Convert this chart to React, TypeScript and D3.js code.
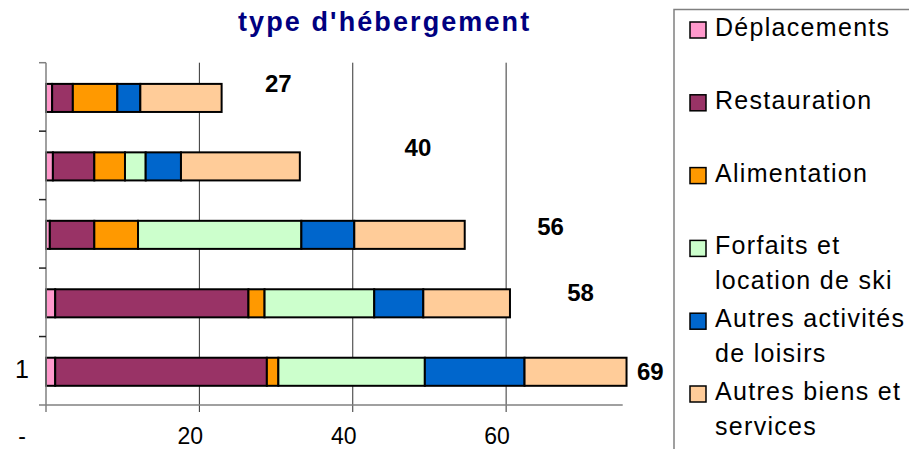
import React from "react";
import * as d3 from "d3";

// Categories, bottom to top (only the first one carries a visible label)
const categories = ["1", "", "", "", ""];
const seriesNames = [
  "Déplacements",
  "Restauration",
  "Alimentation",
  "Forfaits et location de ski",
  "Autres activités de loisirs",
  "Autres biens et services",
];
const seriesColors = ["#FF99CC", "#993366", "#FF9900", "#CCFFCC", "#0066CC", "#FFCC99"];

// Series values per category (bottom to top)
const deplacements = [1.2, 1.2, 0.5, 0.9, 0.8];
const restauration = [27.6, 25.2, 5.8, 5.4, 2.7];
const alimentation = [1.5, 2.1, 5.7, 4.0, 5.8];
const forfaits = [19.1, 14.3, 21.3, 2.7, 0];
const autresLoisirs = [13.0, 6.4, 6.9, 4.6, 3.0];
const autresBiens = [13.3, 11.3, 14.4, 15.5, 10.6];

// Total labels, drawn as a free label series (x in value units, y in category units)
const totalLabels = [69, 58, 56, 40, 27];
const totalLabelX = [78.8, 69.7, 65.8, 48.5, 30.3];
const totalLabelY = [0.37, 1.52, 2.49, 3.64, 4.57];

const xTicks = [0, 20, 40, 60];
const xMax = 75.2;

const W = 909;
const H = 449;
const plotLeft = 46;
const plotRight = 622.7;
const plotTop = 62.7;
const plotBottom = 405;

function wrap(label: string, maxChars: number): string[] {
  const words = label.split(" ");
  const lines: string[] = [];
  let cur = "";
  for (const w of words) {
    const next = cur ? cur + " " + w : w;
    if (next.length > maxChars && cur) {
      lines.push(cur);
      cur = w;
    } else cur = next;
  }
  if (cur) lines.push(cur);
  return lines;
}

export default function App() {
  const values = [deplacements, restauration, alimentation, forfaits, autresLoisirs, autresBiens];
  const rows = categories.map((c, i) => {
    const r: any = { cat: i };
    seriesNames.forEach((s, k) => (r[s] = values[k][i]));
    return r;
  });
  const stacked = d3.stack<any>().keys(seriesNames)(rows);

  const x = d3.scaleLinear().domain([0, xMax]).range([plotLeft, plotRight]);
  const idx = d3.range(categories.length);
  const yBand = d3
    .scaleBand<number>()
    .domain([...idx].reverse())
    .range([plotTop, plotBottom])
    .padding(0);
  const yLin = d3.scaleLinear().domain([0, categories.length]).range([plotBottom, plotTop]);
  const bw = yBand.bandwidth();
  const barH = bw * 0.41;

  const font = "Arial, 'Liberation Sans', Helvetica, sans-serif";
  const legendBase = 36;
  const legendStep = 72.8;

  return (
    <svg
      width={W}
      height={H}
      style={{ position: "absolute", left: 0, top: 0, background: "#fff" }}
      fontFamily={font}
    >
      <rect x={0} y={0} width={W} height={H} fill="#fff" />
      {/* title */}
      <text x={238} y={31} fontSize={27} fontWeight="bold" fill="#000080" letterSpacing={2.1}>
        type d'hébergement
      </text>

      {/* gridlines */}
      {xTicks
        .filter((t) => t > 0)
        .map((t) => (
          <line key={"g" + t} x1={x(t)} x2={x(t)} y1={plotTop} y2={plotBottom + 7} stroke="#333" strokeWidth={1} />
        ))}

      {/* bars */}
      {stacked.map((layer, k) => (
        <g key={seriesNames[k]}>
          {layer.map((d, i) => {
            const w = x(d[1]) - x(d[0]);
            if (w <= 0.01) return null;
            return (
              <rect
                key={i}
                x={x(d[0])}
                y={(yBand(i) as number) + (bw - barH) / 2 + 1}
                width={w}
                height={barH}
                fill={seriesColors[k]}
                stroke="#000"
                strokeWidth={2}
              />
            );
          })}
        </g>
      ))}

      {/* axes */}
      <line x1={plotLeft} x2={plotLeft} y1={plotTop} y2={plotBottom + 7} stroke="#808080" strokeWidth={1.5} />
      <line x1={plotLeft - 7} x2={plotRight} y1={plotBottom} y2={plotBottom} stroke="#808080" strokeWidth={1.5} />
      {idx.map((i) => (
        <line
          key={"yt" + i}
          x1={plotLeft - 7}
          x2={plotLeft}
          y1={yBand(i) as number}
          y2={yBand(i) as number}
          stroke={i === categories.length - 1 ? "#808080" : "#222"}
          strokeWidth={1.5}
        />
      ))}
      {idx.map((i) =>
        categories[i] ? (
          <text key={"yl" + i} x={29} y={(yBand(i) as number) + bw / 2 + 7} fontSize={25} textAnchor="end" fill="#000">
            {categories[i]}
          </text>
        ) : null
      )}
      {xTicks.map((t) => (
        <text
          key={"xl" + t}
          x={t === 0 ? x(t) - 24 : x(t) - 9}
          y={444}
          fontSize={23}
          textAnchor="middle"
          fill="#000"
        >
          {t === 0 ? "-" : String(t)}
        </text>
      ))}

      {/* total labels */}
      {totalLabels.map((v, i) => (
        <text
          key={"tl" + i}
          x={x(totalLabelX[i])}
          y={yLin(totalLabelY[i])}
          fontSize={24}
          fontWeight="bold"
          textAnchor="middle"
          fill="#000"
        >
          {v}
        </text>
      ))}

      {/* legend */}
      <rect x={674} y={9.5} width={W} height={H} fill="none" stroke="#808080" strokeWidth={1.5} />
      {seriesNames.map((s, k) => {
        const base = legendBase + k * legendStep;
        const lines = wrap(s, 16);
        return (
          <g key={"lg" + s}>
            <rect x={690} y={base - 14} width={16} height={16} fill={seriesColors[k]} stroke="#000" strokeWidth={1.5} />
            {lines.map((ln, j) => (
              <text key={j} x={715} y={base + j * 35} fontSize={25} letterSpacing={1.3} fill="#000">
                {ln}
              </text>
            ))}
          </g>
        );
      })}
    </svg>
  );
}
